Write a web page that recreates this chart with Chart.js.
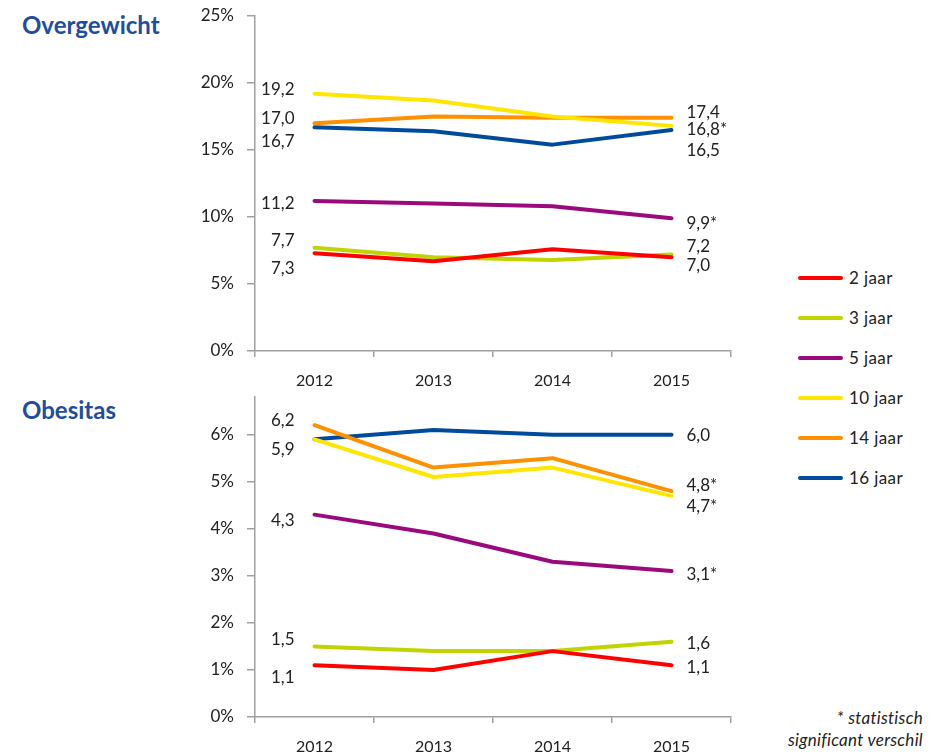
<!DOCTYPE html>
<html>
<head>
<meta charset="utf-8">
<script src="https://cdn.jsdelivr.net/npm/chart.js@4/dist/chart.umd.min.js"></script>
<style>
  html, body { margin: 0; padding: 0; background: #fff; width: 937px; height: 755px; overflow: hidden; font-family: Lato, "Open Sans", sans-serif; }
  .box { position: absolute; }
  .title { position: absolute; color: #1f4e9c; font-weight: bold; font-size: 24px; }
  .leg-line { position: absolute; width: 45px; height: 4px; border-radius: 2px; }
  .leg-text { position: absolute; font-size: 17px; color: #222; line-height: 20px; letter-spacing: 0.4px; }
  .foot { position: absolute; right: 14px; font-style: italic; font-size: 17px; color: #222; text-align: right; line-height: 22px; letter-spacing: 0.3px; }
</style>
</head>
<body>
<div class="title" style="left:22px;top:10px;">Overgewicht</div>
<div class="title" style="left:22px;top:395px;">Obesitas</div>
<div class="box" style="left:0;top:0;width:740px;height:395px;"><canvas id="c1" width="740" height="395"></canvas></div>
<div class="box" style="left:0;top:385px;width:740px;height:372px;"><canvas id="c2" width="740" height="372"></canvas></div>
<div id="legend"></div>
<div class="foot" style="top:707px;">* statistisch<br>significant verschil</div>
<script>
// ---- data ----
const categories = ['2012', '2013', '2014', '2015'];
const seriesNames = ['2 jaar', '3 jaar', '5 jaar', '10 jaar', '14 jaar', '16 jaar'];
const seriesColors = ['#ff0000', '#bfd400', '#9b0a7d', '#ffe600', '#ff9000', '#004a9c'];

// Overgewicht (%)
const over2 = [7.3, 6.7, 7.6, 7.0];
const over3 = [7.7, 7.0, 6.8, 7.2];
const over5 = [11.2, 11.0, 10.8, 9.9];
const over10 = [19.2, 18.7, 17.5, 16.8];
const over14 = [17.0, 17.5, 17.4, 17.4];
const over16 = [16.7, 16.4, 15.4, 16.5];
const overSignificant = [false, false, true, true, false, false];
const overTicks = [0, 5, 10, 15, 20, 25];

// Obesitas (%)
const obes2 = [1.1, 1.0, 1.4, 1.1];
const obes3 = [1.5, 1.4, 1.4, 1.6];
const obes5 = [4.3, 3.9, 3.3, 3.1];
const obes10 = [5.9, 5.1, 5.3, 4.7];
const obes14 = [6.2, 5.3, 5.5, 4.8];
const obes16 = [5.9, 6.1, 6.0, 6.0];
const obesSignificant = [false, false, true, true, true, false];
const obesTicks = [0, 1, 2, 3, 4, 5, 6];

// ---- label placement (style: vertical nudges in px for first/last value labels; null = no label) ----
const overLabelNudge = [[15, 8], [-7, -8], [3, 5], [-4, 4], [-5, -5], [14, 21]];
const obesLabelNudge = [[12, 2], [-7, 2], [6, 3], [null, 11], [-5, -6], [10, 1]];

const FONT = 'Lato, "Open Sans", sans-serif';
const AXIS = '#a0a0a0';
const TEXT = '#222';

function fmt(v) { return v.toFixed(1).replace('.', ','); }

const endLabels = {
  id: 'endLabels',
  afterDatasetsDraw(chart, args, opts) {
    const ctx = chart.ctx;
    ctx.save();
    ctx.font = '17px ' + FONT;
    ctx.fillStyle = TEXT;
    ctx.textBaseline = 'middle';
    chart.data.datasets.forEach((ds, i) => {
      const meta = chart.getDatasetMeta(i);
      const nudge = opts.nudge[i];
      const n = ds.data.length;
      if (nudge[0] !== null) {
        const p = meta.data[0];
        ctx.textAlign = 'right';
        ctx.fillText(fmt(ds.data[0]), p.x - 20, p.y + nudge[0]);
      }
      if (nudge[1] !== null) {
        const p = meta.data[n - 1];
        ctx.textAlign = 'left';
        ctx.fillText(fmt(ds.data[n - 1]) + (opts.sig[i] ? '*' : ''), p.x + 15, p.y + nudge[1]);
      }
    });
    ctx.restore();
  }
};

function makeChart(id, series, ticksArr, yMax, sig, nudge, padTop, xHeight) {
  new Chart(document.getElementById(id), {
    type: 'line',
    data: {
      labels: categories,
      datasets: series.map((d, i) => ({
        label: seriesNames[i],
        data: d,
        borderColor: seriesColors[i],
        backgroundColor: seriesColors[i],
        borderWidth: 4,
        pointRadius: 0,
        tension: 0,
        borderCapStyle: 'round',
        borderJoinStyle: 'round',
        fill: false
      }))
    },
    options: {
      responsive: false,
      animation: false,
      devicePixelRatio: 1,
      layout: { padding: { top: padTop, right: 9, left: 0, bottom: 0 } },
      plugins: {
        legend: { display: false },
        tooltip: { enabled: false },
        endLabels: { sig: sig, nudge: nudge }
      },
      scales: {
        x: {
          type: 'category',
          offset: true,
          grid: { offset: true, drawOnChartArea: false, drawTicks: true, tickLength: 6, color: AXIS, lineWidth: 1.5 },
          border: { color: AXIS, width: 1.5 },
          ticks: { font: { family: FONT, size: 16 }, color: TEXT, padding: 14, maxRotation: 0 },
          afterFit: s => { s.height = xHeight; }
        },
        y: {
          min: 0,
          max: yMax,
          afterBuildTicks: s => { s.ticks = ticksArr.map(v => ({ value: v })); },
          grid: { drawOnChartArea: false, drawTicks: true, tickLength: 8, color: AXIS, lineWidth: 1.5 },
          border: { color: AXIS, width: 1.5 },
          ticks: { font: { family: FONT, size: 17 }, color: TEXT, padding: 13, callback: v => v + '%' },
          afterFit: s => { s.width = 255; s.paddingTop = 0; s.paddingBottom = 0; }
        }
      }
    },
    plugins: [endLabels]
  });
}

makeChart('c1', [over2, over3, over5, over10, over14, over16], overTicks, 25, overSignificant, overLabelNudge, 16, 44);
makeChart('c2', [obes2, obes3, obes5, obes10, obes14, obes16], obesTicks, 6.8, obesSignificant, obesLabelNudge, 12, 40);

// ---- legend ----
const legend = document.getElementById('legend');
const legTop = 278, legStep = 40;
seriesNames.forEach((name, i) => {
  const y = legTop + i * legStep;
  const line = document.createElement('div');
  line.className = 'leg-line';
  line.style.left = '798px';
  line.style.top = (y - 2) + 'px';
  line.style.background = seriesColors[i];
  legend.appendChild(line);
  const t = document.createElement('div');
  t.className = 'leg-text';
  t.style.left = '849px';
  t.style.top = (y - 10) + 'px';
  t.textContent = name;
  legend.appendChild(t);
});
</script>
</body>
</html>
